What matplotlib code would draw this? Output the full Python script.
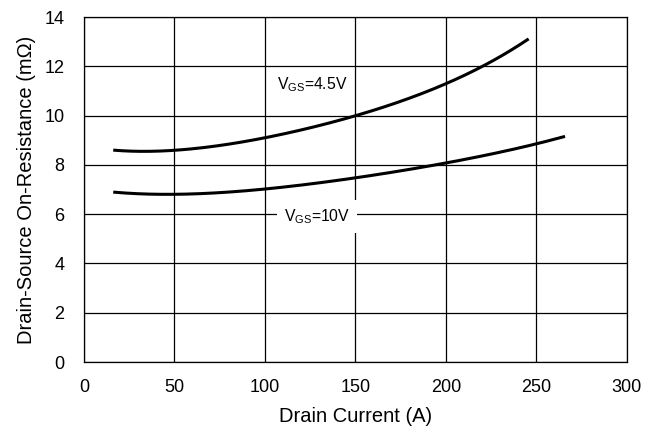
import matplotlib
matplotlib.use("Agg")
import matplotlib.pyplot as plt
import numpy as np

# Rds(on) vs drain current
I_45 = [17, 30, 50, 75, 100, 125, 150, 175, 200, 220, 235, 245]
R_45 = [8.6, 8.55, 8.6, 8.8, 9.1, 9.5, 10.0, 10.6, 11.3, 12.0, 12.6, 13.1]
I_10 = [17, 40, 60, 100, 150, 200, 250, 265]
R_10 = [6.9, 6.8, 6.82, 7.05, 7.45, 8.1, 8.85, 9.15]

plt.rcParams["font.family"] = ["Liberation Sans", "DejaVu Sans"]

fig = plt.figure(figsize=(6.51, 4.37), dpi=100)
ax = fig.add_axes([0.129, 0.1716, 0.834, 0.789])


def smooth(x, y):
    xs = np.linspace(x[0], x[-1], 200)
    c = np.polyfit(x, y, 4)
    return xs, np.polyval(c, xs)


for x, y in ((I_45, R_45), (I_10, R_10)):
    xs, ys = smooth(x, y)
    ax.plot(xs, ys, color="black", lw=2.2, zorder=3)

ax.set_xlim(0, 300)
ax.set_ylim(0, 14)
ax.set_xticks(range(0, 301, 50))
ax.set_yticks(range(0, 15, 2))
ax.grid(True, color="black", lw=0.9)
ax.set_axisbelow(True)
for s in ax.spines.values():
    s.set_linewidth(0.9)
ax.tick_params(axis="x", length=0, labelsize=13, pad=12)
ax.tick_params(axis="y", length=0, labelsize=13, pad=14)
ax.set_xlabel("Drain Current (A)", fontsize=14.5, labelpad=8)
ax.set_ylabel("Drain-Source On-Resistance (m\u03a9)", fontsize=14.5, labelpad=6)

box = dict(facecolor="white", edgecolor="none", pad=5)
ax.text(126, 11.25, r"V$_{\mathregular{GS}}$=4.5V", ha="center", va="center",
        fontsize=11.3, bbox=box, zorder=4)
ax.text(129, 5.9, r"V$_{\mathregular{GS}}$=10V", ha="center", va="center",
        fontsize=11.3, bbox=box, zorder=4)

fig.savefig("out.png", dpi=100)
